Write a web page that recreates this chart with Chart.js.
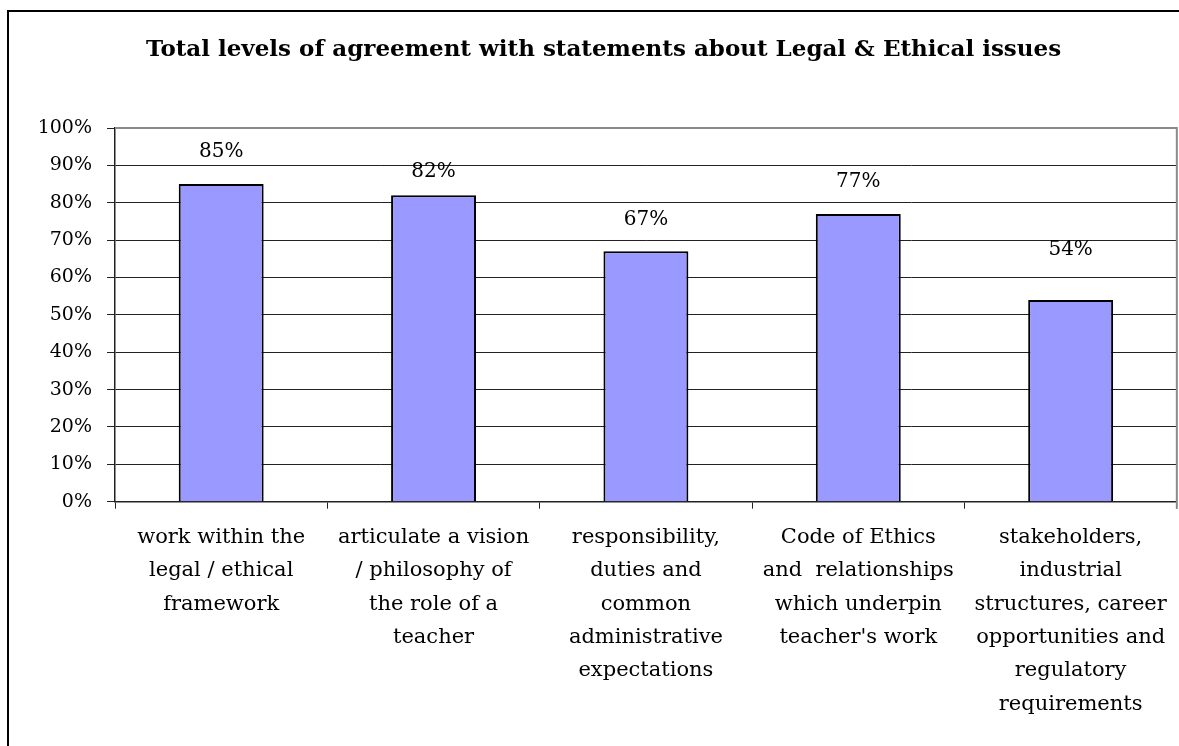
<!DOCTYPE html>
<html>
<head>
<meta charset="utf-8">
<script src="https://cdn.jsdelivr.net/npm/chart.js@4.4.1/dist/chart.umd.min.js"></script>
<style>
  html, body { margin: 0; padding: 0; background: #fff; overflow: hidden; }
</style>
</head>
<body>
<canvas id="myChart" width="1179" height="746"></canvas>
<script>
// Catégories (libellés sur plusieurs lignes)
const categories = [
  ['work within the', 'legal / ethical', 'framework'],
  ['articulate a vision', '/ philosophy of', 'the role of a', 'teacher'],
  ['responsibility,', 'duties and', 'common', 'administrative', 'expectations'],
  ['Code of Ethics', 'and  relationships', 'which underpin', "teacher's work"],
  ['stakeholders,', 'industrial', 'structures, career', 'opportunities and', 'regulatory', 'requirements']
];
const agreement = [85, 82, 67, 77, 54];
const yTicks = [0, 10, 20, 30, 40, 50, 60, 70, 80, 90, 100];

const serif = "'DejaVu Serif', 'Liberation Serif', serif";

// Cadre noir autour du graphique (haut et gauche visibles)
const outerFrame = {
  id: 'outerFrame',
  beforeDraw(chart) {
    const ctx = chart.ctx;
    ctx.save();
    ctx.strokeStyle = '#000';
    ctx.lineWidth = 2;
    ctx.beginPath();
    ctx.moveTo(8, chart.height + 2);
    ctx.lineTo(8, 11);
    ctx.lineTo(chart.width + 2, 11);
    ctx.stroke();
    ctx.restore();
  }
};

// Étiquettes de valeur au-dessus des barres
const valueLabels = {
  id: 'valueLabels',
  afterDatasetsDraw(chart, args, opts) {
    const ctx = chart.ctx;
    const meta = chart.getDatasetMeta(0);
    ctx.save();
    ctx.font = `20px ${serif}`;
    ctx.fillStyle = '#000';
    ctx.textAlign = 'center';
    ctx.textBaseline = 'middle';
    meta.data.forEach((bar, i) => {
      const lift = opts.lift[i] ?? 32;
      ctx.fillText(agreement[i] + '%', bar.x, bar.y - lift);
    });
    ctx.restore();
  }
};

// Bordure grise du haut et de droite de la zone de tracé
const plotBorder = {
  id: 'plotBorder',
  afterDraw(chart) {
    const { ctx, chartArea: a } = chart;
    ctx.save();
    ctx.strokeStyle = '#8a8a8a';
    ctx.lineWidth = 2;
    ctx.beginPath();
    ctx.moveTo(a.left, a.top);
    ctx.lineTo(a.right, a.top);
    ctx.lineTo(a.right, a.bottom + 7);
    ctx.stroke();
    ctx.restore();
  }
};

const ctx = document.getElementById('myChart').getContext('2d');
new Chart(ctx, {
  type: 'bar',
  data: {
    labels: categories,
    datasets: [{
      data: agreement,
      backgroundColor: '#9999ff',
      borderColor: '#000',
      borderWidth: 2,
      barPercentage: 0.4,
      categoryPercentage: 1
    }]
  },
  options: {
    responsive: false,
    animation: false,
    layout: { padding: { left: 30, right: 2, top: 0, bottom: 0 } },
    plugins: {
      legend: { display: false },
      tooltip: { enabled: false },
      title: {
        display: true,
        text: 'Total levels of agreement with statements about Legal & Ethical issues',
        color: '#000',
        font: { family: serif, size: 23, weight: 'bold', lineHeight: 1.2 },
        padding: { top: 36.2, bottom: 64.2 }
      },
      valueLabels: { lift: [32, 23, 32, 32, 50] }
    },
    scales: {
      x: {
        grid: { offset: true, drawOnChartArea: false, tickLength: 7, color: '#222' },
        border: { color: '#222', width: 1.5 },
        ticks: {
          color: '#000',
          padding: 12,
          maxRotation: 0,
          autoSkip: false,
          font: { family: serif, size: 21, lineHeight: '33.4px' }
        },
        afterFit(scale) { scale.height = 244.3; }
      },
      y: {
        min: 0,
        max: 100,
        grid: { color: '#222', tickLength: 8, lineWidth: 1 },
        border: { color: '#222', width: 1.5 },
        afterBuildTicks(scale) { scale.ticks = yTicks.map(v => ({ value: v })); },
        ticks: {
          color: '#000',
          padding: 15,
          font: { family: serif, size: 19 },
          callback: v => v + '%'
        },
        afterFit(scale) { scale.width = 85; }
      }
    }
  },
  plugins: [outerFrame, valueLabels, plotBorder]
});
</script>
</body>
</html>
